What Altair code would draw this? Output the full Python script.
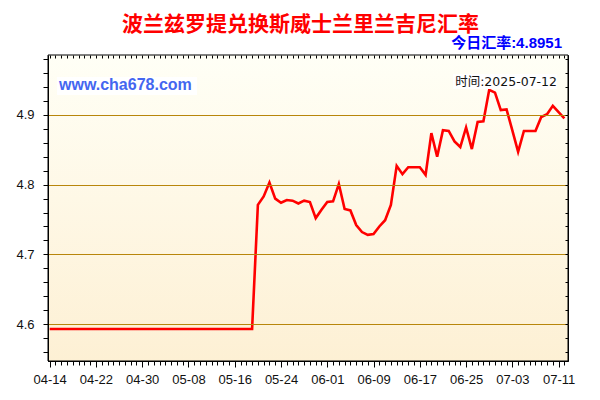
import altair as alt
import pandas as pd

# ---------------- data ----------------
TITLE = "波兰兹罗提兑换斯威士兰里兰吉尼汇率"
TODAY = "今日汇率:4.8951"
SITE = "www.cha678.com"
STAMP = "时间:2025-07-12"

dates = pd.date_range("2025-04-14", "2025-07-12", freq="D").strftime("%Y-%m-%d").tolist()

rates = [
    4.593, 4.593, 4.593, 4.593, 4.593, 4.593, 4.593, 4.593, 4.593, 4.593,
    4.593, 4.593, 4.593, 4.593, 4.593, 4.593, 4.593, 4.593, 4.593, 4.593,
    4.593, 4.593, 4.593, 4.593, 4.593, 4.593, 4.593, 4.593, 4.593, 4.593,
    4.593, 4.593, 4.593, 4.593, 4.593, 4.593,
    4.771, 4.783, 4.803, 4.780, 4.774, 4.778, 4.777, 4.773, 4.777, 4.775,
    4.752, 4.764, 4.775, 4.776, 4.801, 4.765, 4.763, 4.742, 4.732, 4.728,
    4.729, 4.740, 4.749, 4.771, 4.827, 4.815, 4.825, 4.825, 4.825, 4.814,
    4.874, 4.840, 4.878, 4.877, 4.862, 4.854, 4.882, 4.851, 4.890, 4.891,
    4.936, 4.932, 4.907, 4.908, 4.878, 4.847, 4.877, 4.877, 4.877, 4.897,
    4.901, 4.913, 4.904, 4.8951,
]

y_ticks = [round(4.56 + 0.02 * i, 2) for i in range(22)]

df = pd.DataFrame({"date": dates, "rate": rates})

# ---------------- layout ----------------
W, H = 520, 306
DAY = 86400000
T0 = int(pd.Timestamp("2025-04-14", tz="UTC").timestamp() * 1000)
day_ticks = [T0 + i * DAY for i in range(90)]

x_scale = alt.Scale(
    type="utc",
    domain=[
        alt.DateTime(year=2025, month=4, date=13, hours=17, utc=True),
        alt.DateTime(year=2025, month=7, date=12, hours=15, utc=True),
    ],
)
y_scale = alt.Scale(domain=[4.547, 4.986], nice=False, zero=False)

major_x = f"round((datum.value - {T0}) / {DAY}) % 8 == 0"
major_y = "abs(datum.value * 10 - round(datum.value * 10)) < 0.001"

AX_FONT = "Liberation Sans"

# background gradient + frame
bg = alt.Chart(pd.DataFrame({"a": [0]})).mark_rect(
    fill=alt.Gradient(
        gradient="linear",
        stops=[
            alt.GradientStop(color="#fffff6", offset=0),
            alt.GradientStop(color="#fdf0d4", offset=1),
        ],
        x1=0, x2=0, y1=0, y2=1,
    ),
    stroke="black",
    strokeWidth=1,
).encode(x=alt.value(0), x2=alt.value(W), y=alt.value(0), y2=alt.value(H))

line = alt.Chart(df).mark_line(color="#ff0000", strokeWidth=2.6, clip=True).encode(
    x=alt.X(
        "date:T",
        scale=x_scale,
        axis=alt.Axis(
            orient="bottom",
            title=None,
            values=day_ticks,
            labelExpr=f"{major_x} ? utcFormat(datum.value, '%m-%d') : ''",
            labelFont=AX_FONT,
            labelFontSize=13,
            labelColor="#111111",
            labelPadding=6,
            labelOverlap=False,
            labelFlush=False,
            tickSize={"condition": {"test": major_x, "value": 6}, "value": 4},
            tickColor="black",
            domainColor="black",
            grid=False,
            zindex=2,
        ),
    ),
    y=alt.Y(
        "rate:Q",
        scale=y_scale,
        axis=alt.Axis(
            orient="left",
            title=None,
            values=y_ticks,
            labelExpr=f"{major_y} ? format(datum.value, '.1f') : ''",
            labelFont=AX_FONT,
            labelFontSize=13,
            labelColor="#111111",
            labelPadding=9,
            labelOverlap=False,
            tickSize=5,
            tickColor="black",
            domainColor="black",
            grid=True,
            gridColor="#b8860b",
            gridWidth=1,
            gridOpacity={"condition": {"test": major_y, "value": 1}, "value": 0},
            zindex=2,
        ),
    ),
)

# inward ticks on top and right border
frame_ticks = alt.Chart(df).mark_line(opacity=0).encode(
    x=alt.X(
        "date:T",
        scale=x_scale,
        axis=alt.Axis(
            orient="top", offset=-3, title=None, values=day_ticks,
            labels=False, tickSize=3, tickColor="black", domain=False, grid=False,
            zindex=2,
        ),
    ),
    y=alt.Y(
        "rate:Q",
        scale=y_scale,
        axis=alt.Axis(
            orient="right", offset=-3, title=None, values=y_ticks,
            labels=False, tickSize=3, tickColor="black", domain=False, grid=False,
            zindex=2,
        ),
    ),
)


def box(x1, x2, y1, y2):
    return alt.Chart(pd.DataFrame({"a": [0]})).mark_rect(fill="white").encode(
        x=alt.value(x1), x2=alt.value(x2), y=alt.value(y1), y2=alt.value(y2)
    )


def label(text, x, y, size, color, weight="normal", align="left", font=AX_FONT):
    return alt.Chart(pd.DataFrame({"t": [text]})).mark_text(
        align=align, baseline="middle", fontSize=size, fontWeight=weight,
        color=color, font=font,
    ).encode(text="t:N", x=alt.value(x), y=alt.value(y))


title = label(TITLE, 252.5, -30, 21, "#ff0000", "bold", "center",
              "Noto Sans CJK SC, Liberation Sans")
today = label(TODAY, 514, -12, 15, "#0000ff", "bold", "right",
              "Liberation Sans, Noto Sans CJK SC")
site_box = box(9, 149, 22, 40)
site = label(SITE, 11, 30, 16, "#4466f0", "bold", "left", "Liberation Sans")
stamp_box = box(405, 509, 19, 34)
stamp = label(STAMP, 509, 27, 12.5, "#111111", "normal", "right",
              "DejaVu Sans, Noto Sans CJK SC")

chart = (
    alt.layer(bg, line, frame_ticks, title, today, site_box, site, stamp_box, stamp)
    .resolve_axis(x="independent", y="independent")
    .properties(
        width=W, height=H,
        autosize=alt.AutoSizeParams(type="none"),
        padding={"left": 40, "top": 47, "right": 24, "bottom": 25},
    )
    .configure_view(stroke="black", strokeWidth=1)
)

chart.save("out.html", embed_options={"renderer": "svg", "actions": False})
